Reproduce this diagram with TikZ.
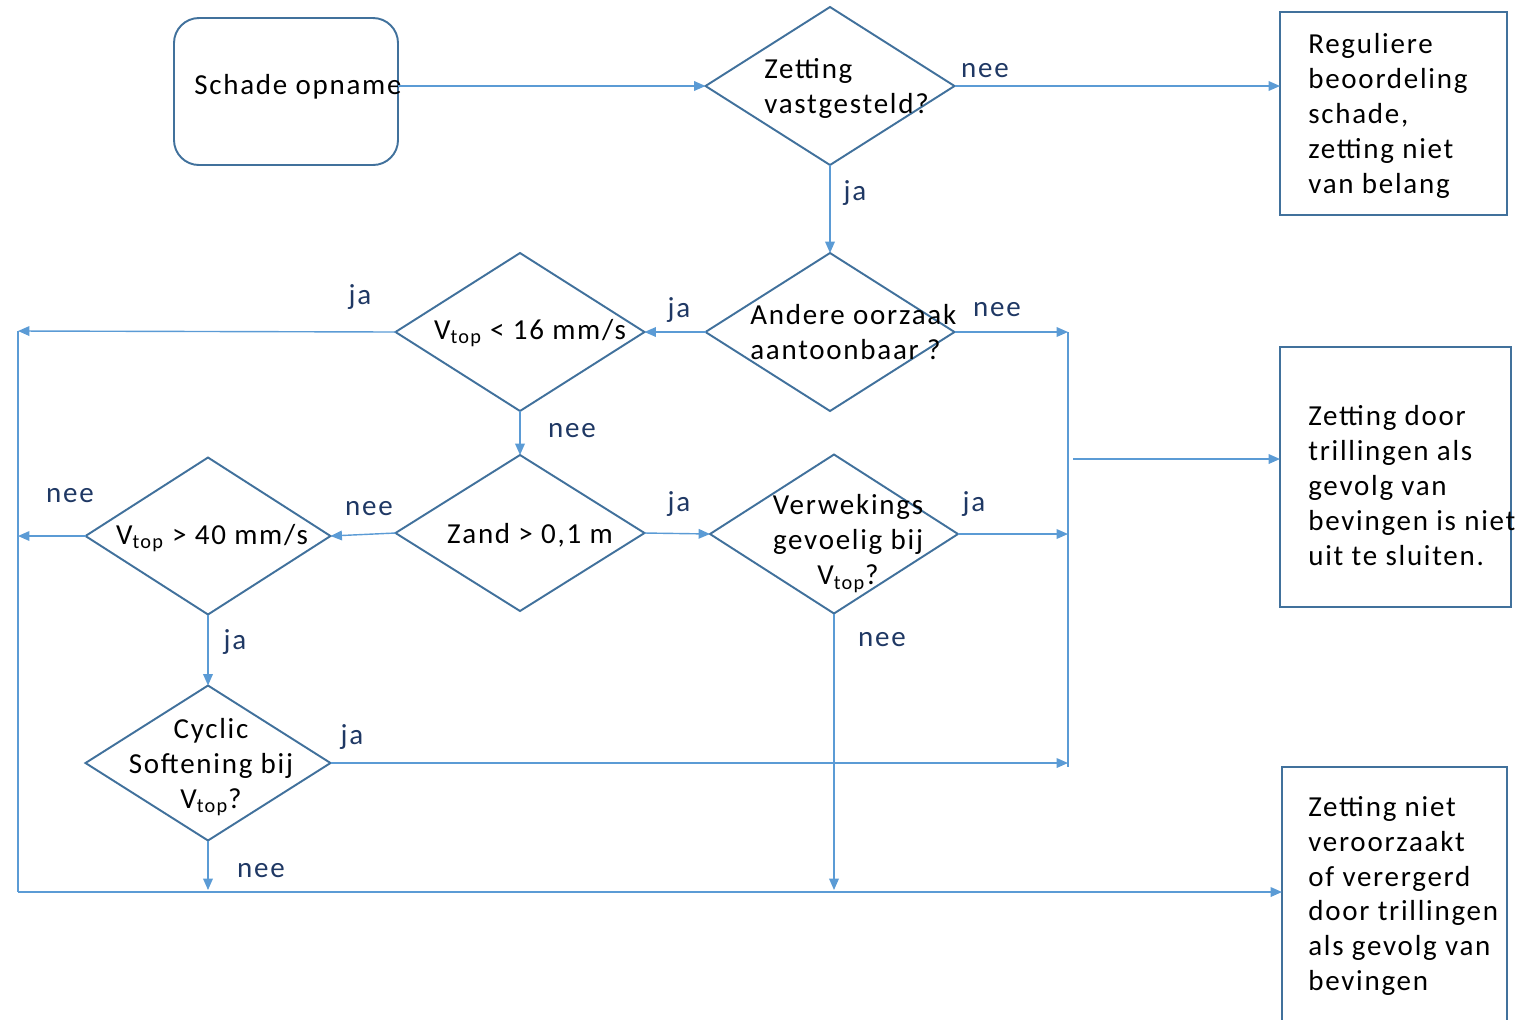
\documentclass[tikz,border=0pt]{standalone}
\usepackage{fontspec}
\setmainfont{Carlito}[LetterSpace=6]
\usetikzlibrary{shapes.geometric,arrows.meta}
\definecolor{lineblue}{HTML}{5B9BD5}
\definecolor{shapeblue}{HTML}{41719C}
\definecolor{navy}{HTML}{1F3864}
\begin{document}
\begin{tikzpicture}[x=0.02cm,y=-0.02cm,
  dia/.style={diamond, draw=shapeblue, line width=1.1pt, inner sep=0pt, outer sep=0pt},
  boxx/.style={rectangle, draw=shapeblue, line width=1.1pt, inner sep=0pt, outer sep=0pt},
  conn/.style={draw=lineblue, line width=0.8pt},
  arr/.style={conn, -{Triangle[length=6.5pt,width=5.5pt]}},
  txt/.style={inner sep=0pt, font=\fontsize{16.5}{19.85}\selectfont},
  lbl/.style={inner sep=0pt, text=navy, font=\fontsize{16.5}{19.85}\selectfont}]
\useasboundingbox (0,0) rectangle (1532,1019);
% shapes
\node[boxx, rounded corners=0.5cm, minimum width={224*0.02cm}, minimum height={147*0.02cm}] (s) at (286,91.5) {};
\node[dia, minimum width={249*0.02cm}, minimum height={158*0.02cm}] (d1) at (830,86) {};
\node[dia, minimum width={249*0.02cm}, minimum height={158*0.02cm}] (d2) at (830,332) {};
\node[dia, minimum width={249*0.02cm}, minimum height={158*0.02cm}] (d3) at (520,332) {};
\node[dia, minimum width={249*0.02cm}, minimum height={156*0.02cm}] (d4) at (520,533) {};
\node[dia, minimum width={248*0.02cm}, minimum height={159*0.02cm}] (d5) at (834,534) {};
\node[dia, minimum width={245*0.02cm}, minimum height={157*0.02cm}] (d6) at (208,536) {};
\node[dia, minimum width={245*0.02cm}, minimum height={155*0.02cm}] (d7) at (208,763) {};
\node[boxx, minimum width={227*0.02cm}, minimum height={203*0.02cm}] (b1) at (1393.5,113.5) {};
\node[boxx, minimum width={231*0.02cm}, minimum height={260*0.02cm}] (b2) at (1395.5,477) {};
\node[boxx, minimum width={225*0.02cm}, minimum height={256*0.02cm}] (b3) at (1394.5,895) {};
% texts
\node[txt, anchor=west] (st) at (194,86.5) {Schade opname};
\node[txt, anchor=west, align=left] (d1t) at (764,88.5) {Zetting\\vastgesteld?};
\node[txt, anchor=west, align=left] (d2t) at (750,332) {Andere oorzaak\\aantoonbaar ?};
\node[txt] (d3t) at (530,333) {V\textsubscript{top} < 16 mm/s};
\node[txt] (d4t) at (530,535) {Zand > 0,1 m};
\node[txt, align=center] (d5t) at (848,543.5) {Verwekings\\gevoelig bij\\V\textsubscript{top}?};
\node[txt] (d6t) at (212,538) {V\textsubscript{top} > 40 mm/s};
\node[txt, align=center] (d7t) at (211,767) {Cyclic\\Softening bij\\V\textsubscript{top}?};
\node[txt, anchor=west, align=left] (b1t) at (1308,116) {Reguliere\\beoordeling\\schade,\\zetting niet\\van belang};
\node[txt, anchor=west, align=left] (b2t) at (1308,485.5) {Zetting door\\trillingen als\\gevolg van\\bevingen is niet\\uit te sluiten.};
\node[txt, anchor=west, align=left] (b3t) at (1308,896) {Zetting niet\\veroorzaakt\\of verergerd\\door trillingen\\als gevolg van\\bevingen};
% labels
\node[lbl] (l1) at (985,71) {nee};
\node[lbl] (l2) at (855,193) {ja};
\node[lbl] (l3) at (997,310) {nee};
\node[lbl] (l4) at (679,310) {ja};
\node[lbl] (l5) at (360,297) {ja};
\node[lbl] (l6) at (572,431) {nee};
\node[lbl] (l7) at (679,504) {ja};
\node[lbl] (l8) at (974,504) {ja};
\node[lbl] (l9) at (882,640) {nee};
\node[lbl] (l10) at (369,509) {nee};
\node[lbl] (l11) at (70,496) {nee};
\node[lbl] (l12) at (235,642) {ja};
\node[lbl] (l13) at (352,737) {ja};
\node[lbl] (l14) at (261,871) {nee};
% coordinates
\coordinate (rt) at (1068,332);
\coordinate (rb) at (1068,767);
\coordinate (rm) at (1073,459);
\coordinate (r5) at (1068,534);
\coordinate (lt) at (18,331);
\coordinate (ln) at (18,536);
\coordinate (lb) at (18,892);
\coordinate (e5) at (834,890);
\coordinate (e7) at (208,890);
% connectors
\draw[arr] (s.east |- d1.west) -- (d1.west);
\draw[arr] (d1.east) -- (b1.west |- d1.east);
\draw[arr] (d1.south) -- (d2.north);
\draw[arr] (d2.west) -- (d3.east);
\draw[arr] (d2.east) -- (rt);
\draw[conn] (rt) -- (rb);
\draw[arr] (rm) -- (b2.west |- rm);
\draw[arr] (d3.west) -- (lt);
\draw[conn] (lt) -- (lb);
\draw[arr] (lb) -- (b3.west |- lb);
\draw[arr] (d3.south) -- (d4.north);
\draw[arr] (d4.east) -- (d5.west);
\draw[arr] (d5.east) -- (r5);
\draw[arr] (d5.south) -- (e5);
\draw[arr] (d4.west) -- (d6.east);
\draw[arr] (d6.west) -- (ln);
\draw[arr] (d6.south) -- (d7.north);
\draw[arr] (d7.east) -- (d7.east -| rb);
\draw[arr] (d7.south) -- (e7);
\end{tikzpicture}
\end{document}
